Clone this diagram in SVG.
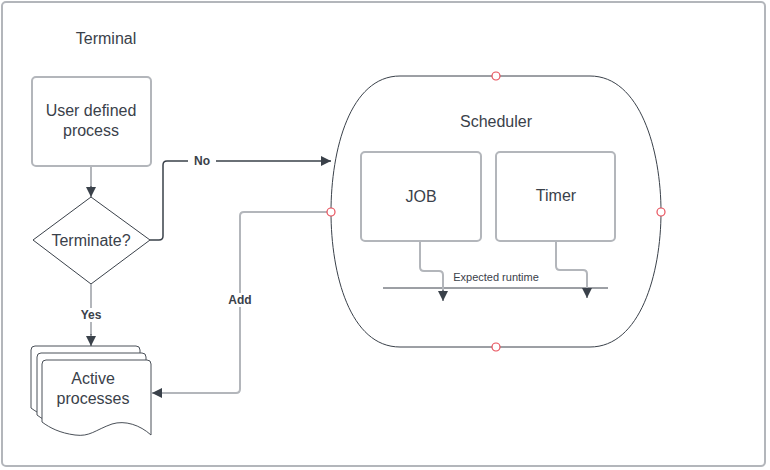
<svg xmlns="http://www.w3.org/2000/svg" width="770" height="470" viewBox="0 0 770 470">
<style>
text{font-family:"Liberation Sans",Arial,sans-serif;fill:#3a414a;text-anchor:middle;dominant-baseline:central}
.lbl{font-size:16px}
.sm{font-size:11px}
.bold{font-size:12px;font-weight:bold}
.box{fill:#fff;stroke:#b3b6bb;stroke-width:2}
.thin{fill:#fff;stroke:#3a414a;stroke-width:1}
.doc{fill:#fff;stroke:#4a5058;stroke-width:1}
.cg{fill:none;stroke:#b3b6bb;stroke-width:2}
.cd{fill:none;stroke:#3a414a;stroke-width:1.5}
.port{fill:#fff;stroke:#e8505b;stroke-width:1.2}
</style>
<defs>
<marker id="ah" viewBox="0 0 10 10" refX="10" refY="5" markerWidth="10" markerHeight="10" markerUnits="userSpaceOnUse" orient="auto">
<path d="M0 0 L10 5 L0 10 Z" fill="#3a414a"/>
</marker>
</defs>
<rect x="2" y="2" width="763" height="464" rx="4" fill="#fff" stroke="#b3b6bb" stroke-width="2"/>
<text class="lbl" x="106" y="38">Terminal</text>

<g id="user-process">
<rect class="box" x="32" y="77" width="119" height="89" rx="4"/>
<text class="lbl" x="91" y="110">User defined</text>
<text class="lbl" x="91" y="130">process</text>
</g>

<g id="terminate">
<path class="thin" d="M91 197 L150 240 L91 284 L33 240 Z"/>
<text class="lbl" x="91" y="240">Terminate?</text>
</g>

<g id="active-processes">
<path class="doc" transform="translate(-11,-14)" d="M42 364 Q42 360 46 360 H147 Q151 360 151 364 V435 C140 425 125 420 112 424 C95 430 90 437 75 435 C60 433 50 428 42 422 Z"/>
<path class="doc" transform="translate(-5,-7)" d="M42 364 Q42 360 46 360 H147 Q151 360 151 364 V435 C140 425 125 420 112 424 C95 430 90 437 75 435 C60 433 50 428 42 422 Z"/>
<path class="doc" d="M42 364 Q42 360 46 360 H147 Q151 360 151 364 V435 C140 425 125 420 112 424 C95 430 90 437 75 435 C60 433 50 428 42 422 Z"/>
<text class="lbl" x="93" y="378">Active</text>
<text class="lbl" x="93" y="398">processes</text>
</g>

<g id="scheduler">
<path class="thin" d="M400 76 H590 C640 76 661 150 661 212 C661 274 640 347 590 347 H400 C350 347 331 274 331 212 C331 150 350 76 400 76 Z"/>
<text class="lbl" x="496" y="121">Scheduler</text>
</g>

<g id="job">
<rect class="box" x="361" y="152" width="120" height="89" rx="4"/>
<text class="lbl" x="421" y="196">JOB</text>
</g>

<g id="timer">
<rect class="box" x="496" y="152" width="119" height="89" rx="4"/>
<text class="lbl" x="556" y="195">Timer</text>
</g>

<g id="expected-runtime">
<path d="M383 288 H608" stroke="#3a414a" stroke-width="1"/>
<text class="sm" x="496" y="277">Expected runtime</text>
</g>

<g id="connectors">
<path class="cg" d="M91 167 V187" />
<path d="M91 186 V197" stroke="#3a414a" stroke-width="1" marker-end="url(#ah)"/>
<path class="cg" d="M91 284 V335"/>
<path d="M91 334 V346" stroke="#3a414a" stroke-width="1" marker-end="url(#ah)"/>
<path class="cd" d="M150 240 H159 Q163 240 163 236 V165 Q163 161 167 161 H331" marker-end="url(#ah)"/>
<path class="cg" d="M331 212 H244 Q240 212 240 216 V389 Q240 393 236 393 H152" marker-end="url(#ah)"/>
<path class="cg" d="M420 241 V267 Q420 271 424 271 H439 Q443 271 443 275 V292"/>
<path d="M443 290 V301" stroke="#3a414a" stroke-width="1" marker-end="url(#ah)"/>
<path class="cg" d="M556 241 V266 Q556 270 560 270 H583 Q587 270 587 274 V290"/>
<path d="M587 288 V298" stroke="#3a414a" stroke-width="1" marker-end="url(#ah)"/>
<rect x="188" y="154" width="28" height="14" fill="#fff"/>
<text class="bold" x="202" y="161">No</text>
<rect x="90" y="308" width="2" height="14" fill="#fff"/>
<text class="bold" x="91" y="315">Yes</text>
<rect x="226" y="293" width="28" height="14" fill="#fff"/>
<text class="bold" x="240" y="300">Add</text>
</g>

<g id="ports">
<circle class="port" cx="496" cy="76" r="4"/>
<circle class="port" cx="661" cy="212" r="4"/>
<circle class="port" cx="496" cy="347" r="4"/>
<circle class="port" cx="331" cy="212" r="4"/>
</g>
</svg>
